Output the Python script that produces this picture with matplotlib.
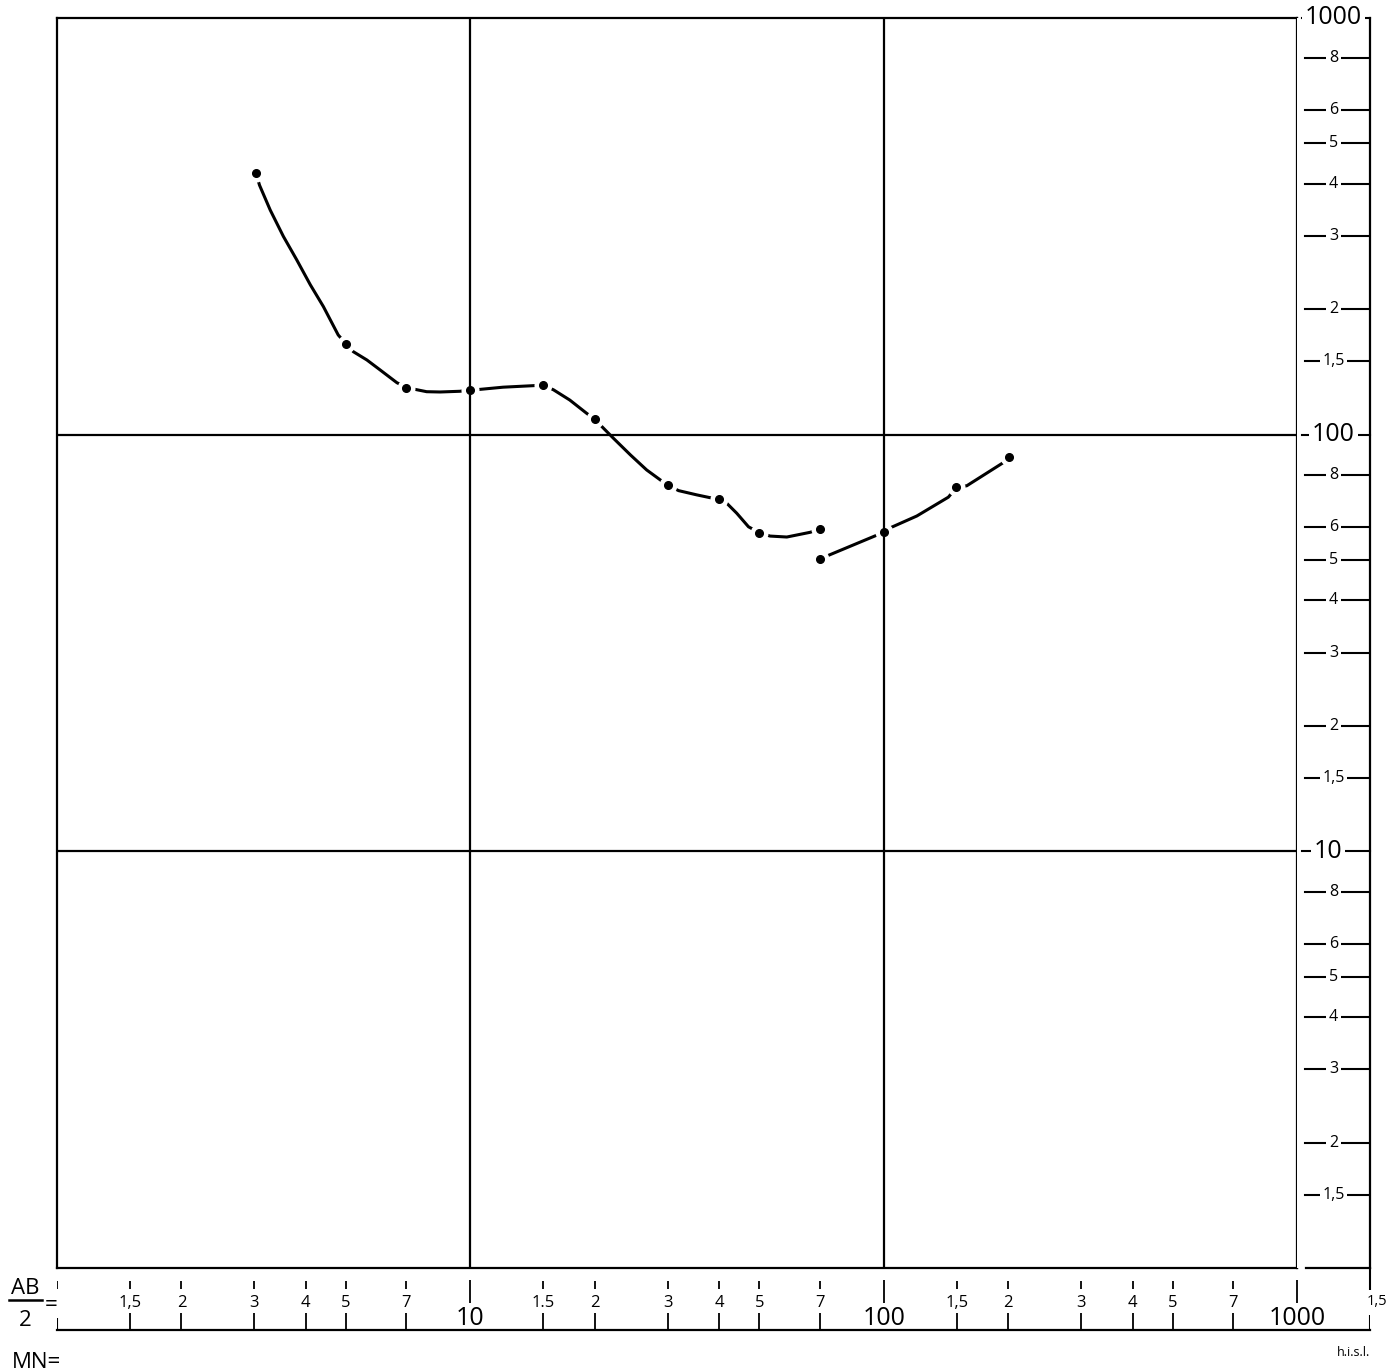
import matplotlib.pyplot as plt
from matplotlib.lines import Line2D

plt.rcParams['font.family'] = ['Open Sans', 'DejaVu Sans']

# sounding curve, first spread: AB/2 and apparent resistivity (traced)
ab2_a = [3.03, 3.09, 3.28, 3.53, 3.80, 4.10, 4.41, 4.79, 5.0, 5.21, 5.62,
         6.05, 6.64, 7.0, 7.84, 8.45, 9.44, 10.0, 10.26, 12.0, 14.2, 15.0,
         15.9, 17.4, 19.1, 20.0, 21.0, 22.2, 24.4, 26.7, 28.8, 30.0, 31.9,
         35.3, 38.0, 40.0, 41.7, 44.1, 47.1, 50.0, 53.1, 58.3, 66.4, 70.0]
rho_a = [424, 397, 346, 299, 263, 229, 203, 173.5, 165.3, 158.2, 151.1,
         143, 133.3, 129.7, 126.8, 126.6, 127.1, 128.1, 128.1, 130, 131.1,
         131.6, 128.1, 121.1, 112.6, 108.9, 103.6, 98.0, 89.4, 82.3, 77.9,
         75.7, 73.4, 71.7, 70.6, 70.0, 68.5, 64.8, 60.1, 58.2, 57.1, 56.8,
         58.3, 59.3]
# measured stations on the first spread
st_ab2_a = [3.03, 5.0, 7.0, 10.0, 15.0, 20.0, 30.0, 40.0, 50.0, 70.0]
st_rho_a = [424, 165.3, 129.7, 128.1, 131.6, 108.9, 75.7, 70.0, 58.2, 59.3]

# second spread (larger MN)
ab2_b = [70, 100, 102.7, 120.3, 143.4, 150, 158.9, 194.8, 201]
rho_b = [50.3, 58.3, 59.5, 63.8, 70.8, 74.7, 75.4, 85.7, 88.5]
st_ab2_b = [70, 100, 150, 201]
st_rho_b = [50.3, 58.3, 74.7, 88.5]

# scale annotations
decades = [1, 10, 100]
minor_vals = [1.5, 2, 3, 4, 5, 7]
minor_labels = ['1,5', '2', '3', '4', '5', '7']
major_vals = [10, 100, 1000]
major_labels = ['10', '100', '1000']
rho_minor_vals = [1.5, 2, 3, 4, 5, 6, 8]
rho_minor_labels = ['1,5', '2', '3', '4', '5', '6', '8']

W, H = 1399, 1372


def box(x0, y0, x1, y1):
    return [x0 / W, 1 - y1 / H, (x1 - x0) / W, (y1 - y0) / H]


fig = plt.figure(figsize=(W / 100, H / 100), dpi=100)

# main log-log sheet
ax = fig.add_axes(box(57, 18, 1297, 1268))
ax.set_xscale('log')
ax.set_yscale('log')
ax.set_xlim(1, 1000)
ax.set_ylim(1, 1000)
ax.set_xticks([])
ax.set_yticks([])
ax.minorticks_off()
for s in ax.spines.values():
    s.set_linewidth(1.6)

st_x = st_ab2_a + st_ab2_b
st_y = st_rho_a + st_rho_b
ax.plot(ab2_a, rho_a, color='black', lw=2.2, zorder=2, solid_capstyle='butt')
ax.plot(ab2_b, rho_b, color='black', lw=2.2, zorder=2, solid_capstyle='butt')
# breaks in the line around each station
ax.plot(st_x, st_y, 'o', ms=13, mfc='white', mec='none', zorder=3)
for v in [10, 100]:
    ax.axvline(v, color='black', lw=1.6, zorder=4)
    ax.axhline(v, color='black', lw=1.6, zorder=4)
ax.plot(st_x, st_y, 'o', ms=5.5, color='black', zorder=5)

# resistivity scale on the right
ax_r = fig.add_axes(box(1297, 18, 1370, 1268), sharey=ax)
ax_r.set_xlim(0, 1)
ax_r.set_xticks([])
ax_r.tick_params(left=False, labelleft=False, which='both')
for k in ['left', 'top', 'bottom']:
    ax_r.spines[k].set_visible(False)
ax_r.spines['right'].set_linewidth(1.6)

lbl_box = dict(facecolor='white', edgecolor='none', pad=2)
for v, t in zip(major_vals, major_labels):
    ax_r.plot([0.07, 1.0], [v, v], color='black', lw=1.5, clip_on=False)
    ax_r.text(0.5 if v != 10 else 0.42, v, t, ha='center', va='center',
              fontsize=18, bbox=lbl_box, clip_on=False)
for d in decades:
    for v, t in zip(rho_minor_vals, rho_minor_labels):
        ax_r.plot([0.11, 1.0], [v * d, v * d], color='black', lw=1.5)
        ax_r.text(0.5, v * d, t, ha='center', va='center', fontsize=11.5, bbox=lbl_box)
ax_r.plot([0.12, 1.0], [1, 1], color='black', lw=1.6, clip_on=False)

# AB/2 scale below
ax_b = fig.add_axes(box(57, 1268, 1370, 1330))
ax_b.set_xscale('log')
ax_b.set_xlim(1, 1500)
ax_b.set_ylim(0, 1)
ax_b.set_xticks([])
ax_b.set_yticks([])
ax_b.minorticks_off()
ax_b.patch.set_visible(False)
for k in ['left', 'top', 'right']:
    ax_b.spines[k].set_visible(False)
ax_b.spines['bottom'].set_linewidth(1.6)

for d in decades:
    for v, t in zip(minor_vals, minor_labels):
        x = v * d
        if d == 10 and v == 1.5:
            t = '1.5'
        ax_b.vlines(x, 0.66, 0.79, color='black', lw=1.3)
        ax_b.vlines(x, 0, 0.27, color='black', lw=1.3)
        ax_b.text(x, 0.43, t, ha='center', va='center', fontsize=12)
for v, t in zip(major_vals, major_labels):
    ax_b.vlines(v, 0.44, 0.81, color='black', lw=1.3)
    ax_b.text(v, 0.19, t, ha='center', va='center', fontsize=18)
ax_b.vlines(1, 0.66, 0.79, color='black', lw=1.3)
ax_b.vlines(1, 0, 0.2, color='black', lw=1.5)
ax_b.vlines(1500, 0.64, 1.0, color='black', lw=1.5, clip_on=False)
ax_b.vlines(1500, 0, 0.24, color='black', lw=1.5)
ax_b.annotate('1,5', (1500, 0.43), xytext=(7, 2), textcoords='offset pixels',
              ha='center', va='center', fontsize=10.5, annotation_clip=False)

# side labels
fig.text(25 / W, 1 - 1289 / H, 'AB', ha='center', va='center', fontsize=16)
fig.add_artist(Line2D([9 / W, 42 / W], [1 - 1300 / H, 1 - 1300 / H], color='black', lw=1.8))
fig.text(25 / W, 1 - 1321 / H, '2', ha='center', va='center', fontsize=16)
fig.text(51 / W, 1 - 1305 / H, '=', ha='center', va='center', fontsize=16)
fig.text(12 / W, 1 - 1363 / H, 'MN=', ha='left', va='center', fontsize=16)
fig.text(1370 / W, 1 - 1353 / H, 'h.i.s.l.', ha='right', va='center', fontsize=9)

fig.savefig('out.png', dpi=100)
